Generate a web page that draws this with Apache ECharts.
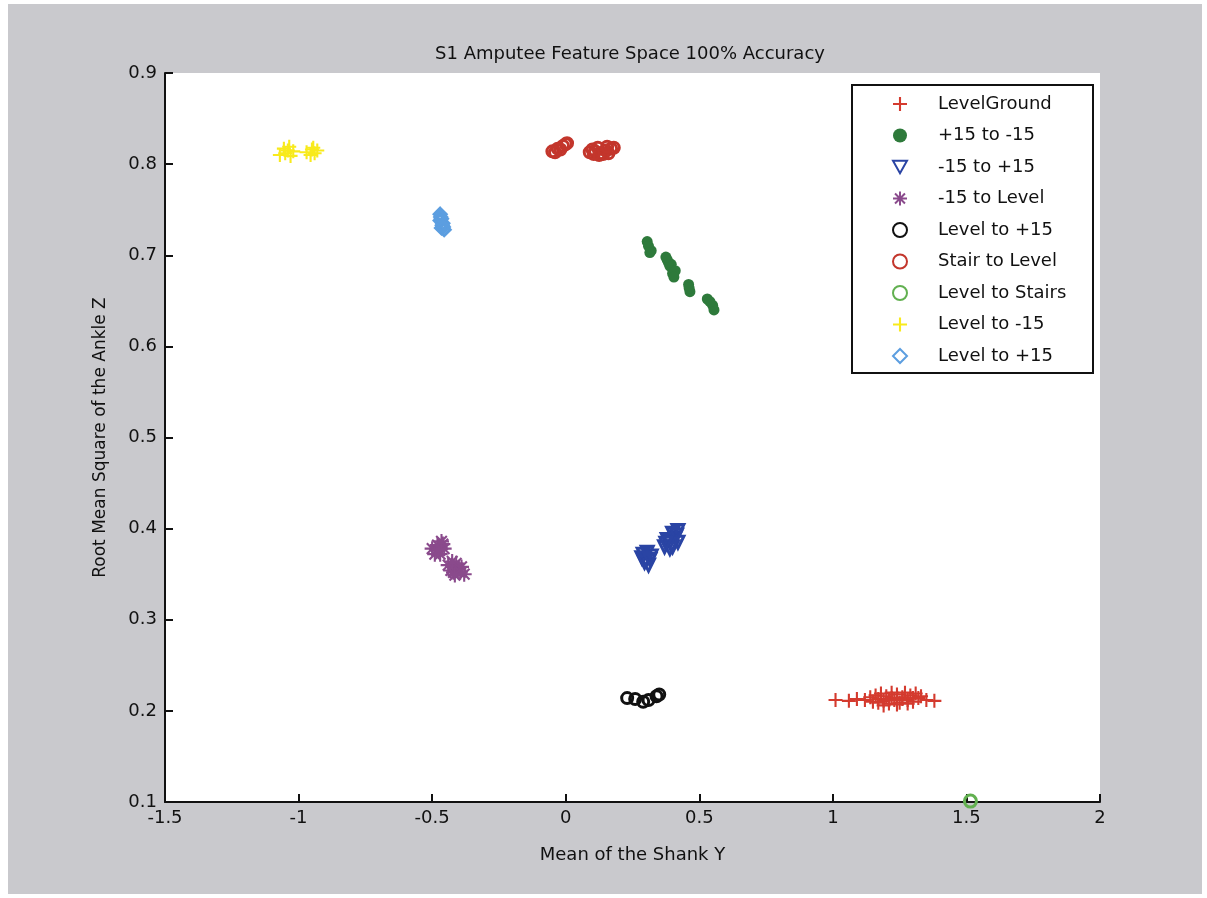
<!DOCTYPE html>
<html>
<head>
<meta charset="utf-8">
<script src="https://cdn.jsdelivr.net/npm/echarts@6/dist/echarts.min.js"></script>
<style>
  html, body { margin: 0; padding: 0; background: #ffffff; }
  #chart { width: 1207px; height: 898px; }
</style>
</head>
<body>
<div id="chart"></div>
<script>
// ---------- Data ----------
const chartTitle = 'S1 Amputee Feature Space 100% Accuracy';
const xAxisName = 'Mean of the Shank Y';
const yAxisName = 'Root Mean Square of the Ankle Z';
const xTicks = [-1.5, -1, -0.5, 0, 0.5, 1, 1.5, 2];
const yTicks = [0.1, 0.2, 0.3, 0.4, 0.5, 0.6, 0.7, 0.8, 0.9];

const seriesNames = ['LevelGround', '+15 to -15', '-15 to +15', '-15 to Level',
  'Level to +15', 'Stair to Level', 'Level to Stairs', 'Level to -15', 'Level to +15\u200b'];

const levelGroundX = [1.01, 1.06, 1.09, 1.12, 1.14, 1.15, 1.16, 1.17, 1.18, 1.19, 1.20, 1.21, 1.22, 1.22, 1.23,
  1.24, 1.25, 1.26, 1.27, 1.28, 1.29, 1.30, 1.31, 1.32, 1.33, 1.35, 1.38, 1.19, 1.24, 1.28, 1.21, 1.26, 1.30, 1.17];
const levelGroundY = [0.212, 0.211, 0.213, 0.212, 0.215, 0.210, 0.217, 0.213, 0.219, 0.211, 0.216, 0.208, 0.214,
  0.220, 0.212, 0.218, 0.209, 0.215, 0.220, 0.212, 0.217, 0.210, 0.219, 0.214, 0.216, 0.212, 0.211, 0.206, 0.207,
  0.208, 0.212, 0.213, 0.214, 0.209];

const p15toM15X = [0.305, 0.32, 0.31, 0.315, 0.38, 0.39, 0.40, 0.395, 0.41, 0.385, 0.375, 0.405, 0.46, 0.465, 0.462,
  0.53, 0.55, 0.555, 0.54];
const p15toM15Y = [0.715, 0.705, 0.710, 0.703, 0.695, 0.688, 0.680, 0.690, 0.683, 0.692, 0.698, 0.676, 0.668, 0.660,
  0.664, 0.652, 0.645, 0.640, 0.649];

const m15toP15X = [0.29, 0.30, 0.31, 0.32, 0.285, 0.305, 0.295, 0.315, 0.37, 0.39, 0.41, 0.42, 0.40, 0.38, 0.42,
  0.40, 0.39, 0.415, 0.375];
const m15toP15Y = [0.372, 0.365, 0.360, 0.370, 0.368, 0.374, 0.363, 0.366, 0.380, 0.385, 0.390, 0.398, 0.395, 0.388,
  0.385, 0.380, 0.378, 0.393, 0.384];

const m15toLevelX = [-0.50, -0.48, -0.47, -0.455, -0.49, -0.46, -0.475, -0.465, -0.44, -0.42, -0.40, -0.38, -0.43,
  -0.39, -0.41, -0.425, -0.395, -0.415];
const m15toLevelY = [0.378, 0.382, 0.372, 0.378, 0.372, 0.383, 0.377, 0.386, 0.360, 0.352, 0.356, 0.350, 0.354,
  0.358, 0.362, 0.364, 0.352, 0.349];

const levelToP15X = [0.23, 0.26, 0.29, 0.31, 0.35, 0.34];
const levelToP15Y = [0.214, 0.213, 0.210, 0.212, 0.218, 0.216];

const stairToLevelX = [-0.05, -0.03, -0.01, 0.0, -0.02, 0.005, -0.04, 0.09, 0.11, 0.13, 0.15, 0.17, 0.12, 0.16,
  0.10, 0.14, 0.18, 0.125, 0.155, 0.105];
const stairToLevelY = [0.814, 0.817, 0.820, 0.822, 0.816, 0.823, 0.813, 0.813, 0.814, 0.812, 0.815, 0.817, 0.818,
  0.812, 0.816, 0.811, 0.818, 0.810, 0.819, 0.811];

const levelToStairsX = [1.515];
const levelToStairsY = [0.101];

const levelToM15X = [-1.07, -1.05, -1.04, -1.02, -1.03, -1.055, -1.035, -0.97, -0.95, -0.94, -0.93, -0.955, -0.945];
const levelToM15Y = [0.810, 0.812, 0.815, 0.814, 0.809, 0.817, 0.819, 0.813, 0.816, 0.812, 0.815, 0.810, 0.818];

const levelToP15bX = [-0.47, -0.465, -0.46, -0.465, -0.455, -0.47, -0.462, -0.468, -0.458];
const levelToP15bY = [0.745, 0.740, 0.735, 0.730, 0.728, 0.738, 0.733, 0.742, 0.731];

// ---------- Presentation ----------
const FONT = "'DejaVu Sans', 'Liberation Sans', sans-serif";
const PLUS = 'path://M0,8.5 L20,8.5 L20,11.5 L0,11.5 Z M8.5,0 L11.5,0 L11.5,20 L8.5,20 Z';
const STAR = 'path://M0,8.6 L20,8.6 L20,11.4 L0,11.4 Z M8.6,0 L11.4,0 L11.4,20 L8.6,20 Z ' +
  'M1.9,3.9 L3.9,1.9 L18.1,16.1 L16.1,18.1 Z M16.1,1.9 L18.1,3.9 L3.9,18.1 L1.9,16.1 Z';
const TRI_DOWN = 'path://M0,0 L20,0 L10,18 Z';

function zip(xs, ys) { return xs.map((x, i) => [x, ys[i]]); }

const defs = [
  { x: levelGroundX, y: levelGroundY, symbol: PLUS, size: 14, color: '#d43a2e', filled: true },
  { x: p15toM15X, y: p15toM15Y, symbol: 'circle', size: 11, color: '#2e7a3b', filled: true },
  { x: m15toP15X, y: m15toP15Y, symbol: TRI_DOWN, size: 12, color: '#2a44a4', filled: false },
  { x: m15toLevelX, y: m15toLevelY, symbol: STAR, size: 15, color: '#8a4a8c', filled: true },
  { x: levelToP15X, y: levelToP15Y, symbol: 'circle', size: 11, color: '#111111', filled: false },
  { x: stairToLevelX, y: stairToLevelY, symbol: 'circle', size: 11, color: '#c3362c', filled: false },
  { x: levelToStairsX, y: levelToStairsY, symbol: 'circle', size: 12, color: '#62b050', filled: false },
  { x: levelToM15X, y: levelToM15Y, symbol: PLUS, size: 14, color: '#f8ea1c', filled: true },
  { x: levelToP15bX, y: levelToP15bY, symbol: 'diamond', size: 12, color: '#5c9ee0', filled: false }
];

const series = defs.map((d, i) => ({
  name: seriesNames[i],
  type: 'scatter',
  data: zip(d.x, d.y),
  symbol: d.symbol,
  symbolSize: d.size,
  itemStyle: d.filled
    ? { color: d.color, borderWidth: 0, opacity: 1 }
    : { color: 'rgba(0,0,0,0)', borderColor: d.color, borderWidth: 3, opacity: 1 },
  emphasis: { disabled: true },
  animation: false
}));

const fmt = v => String(Math.round(v * 10) / 10);

const chart = echarts.init(document.getElementById('chart'), null, { renderer: 'canvas' });
chart.setOption({
  backgroundColor: '#ffffff',
  animation: false,
  graphic: [
    { type: 'rect', z: -10, silent: true, shape: { x: 8, y: 4, width: 1194, height: 890 },
      style: { fill: '#c9c9cd' } },
    { type: 'rect', z: 10, silent: true, shape: { x: 852, y: 85, width: 241, height: 288 },
      style: { fill: 'rgba(0,0,0,0)', stroke: '#111', lineWidth: 2 } },
    { type: 'rect', z: -5, silent: true, shape: { x: 852, y: 85, width: 241, height: 288 },
      style: { fill: '#ffffff' } }
  ],
  title: {
    text: chartTitle,
    left: 625, top: 40, textAlign: 'center',
    textStyle: { fontFamily: FONT, fontSize: 18, fontWeight: 'normal', color: '#111' }
  },
  grid: { left: 165, right: 107, top: 73, bottom: 96, show: true, backgroundColor: '#ffffff', borderWidth: 0, containLabel: false },
  legend: {
    orient: 'vertical', left: 892, top: 95, padding: 0,
    itemWidth: 14, itemHeight: 14, itemGap: 13.5,
    selectedMode: false,
    textStyle: { fontFamily: FONT, fontSize: 18, color: '#111', lineHeight: 18, padding: [0, 0, 0, 26] },
    data: seriesNames
  },
  xAxis: {
    type: 'value', min: xTicks[0], max: xTicks[xTicks.length - 1], interval: 0.5,
    name: xAxisName, nameLocation: 'middle', nameGap: 44,
    nameTextStyle: { fontFamily: FONT, fontSize: 18, color: '#111' },
    axisLine: { onZero: false, lineStyle: { color: '#111', width: 2 } },
    axisTick: { inside: true, length: 8, lineStyle: { color: '#111', width: 2 } },
    axisLabel: { fontFamily: FONT, fontSize: 18, color: '#111', margin: 7, formatter: fmt },
    splitLine: { show: false }
  },
  yAxis: {
    type: 'value', min: yTicks[0], max: yTicks[yTicks.length - 1], interval: 0.1,
    name: yAxisName, nameLocation: 'middle', nameGap: 56,
    nameTextStyle: { fontFamily: FONT, fontSize: 17, color: '#111' },
    axisLine: { onZero: false, lineStyle: { color: '#111', width: 2 } },
    axisTick: { inside: true, length: 8, lineStyle: { color: '#111', width: 2 } },
    axisLabel: { fontFamily: FONT, fontSize: 18, color: '#111', margin: 8, formatter: fmt },
    splitLine: { show: false }
  },
  series: series
});
</script>
</body>
</html>
